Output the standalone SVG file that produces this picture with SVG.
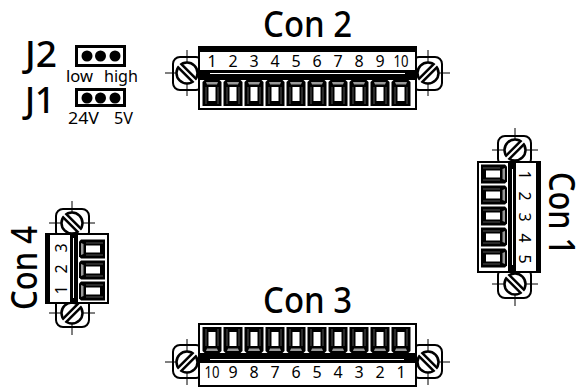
<svg xmlns="http://www.w3.org/2000/svg" width="577" height="387" viewBox="0 0 577 387">
<style>
text{font-family:"Noto Sans","Liberation Sans",sans-serif;fill:#000}
.t{font-size:36px;font-weight:500}
.n{font-size:16px;text-anchor:middle}
.s{font-size:16px}
.o{fill:none;stroke:#000;stroke-width:3}
</style>
<defs>
<g id="ear">
<rect x="-14" y="-16" width="30" height="33" rx="7" fill="#fff" stroke="#000" stroke-width="2"/>
<path d="M-22 0H12M0-23V23" stroke="#000" stroke-width="1" fill="none"/>
<circle r="10.500" fill="#fff" stroke="#000" stroke-width="2.500"/>
<path d="M-7.500-7.500L7.500 7.500" stroke="#000" stroke-width="7" fill="none"/>
<path d="M-9-9L9 9" stroke="#fff" stroke-width="2" fill="none"/>
</g>
<g id="pin">
<path d="M-0.500 36L1.500 34H16.500L18.500 36V60H-0.500Z" fill="#000"/>
<path d="M3 36H15L14 38.500H4Z" fill="#999"/>
<path d="M3 41V58M15 41V58" stroke="#555" stroke-width="1"/>
<rect x="5.500" y="41" width="7" height="14" fill="#fff"/>
</g>
</defs>
<g id="connectors"/>
<g id="con2">
<text class="t" x="263" y="37" textLength="89" lengthAdjust="spacingAndGlyphs">Con 2</text>
<g transform="translate(198 46)">
<use href="#ear" x="-11" y="27"/>
<use href="#ear" transform="translate(230 27) scale(-1 1)"/>
<rect x="1" y="1" width="217" height="62" fill="#fff" stroke="#000" stroke-width="2"/>
<rect width="219" height="6" fill="#000"/>
<rect y="24" width="219" height="10" fill="#000"/>
<path d="M12 27.500H207" stroke="#fff" stroke-width="1"/>
<use href="#pin" x="5"/><use href="#pin" x="26"/><use href="#pin" x="47"/><use href="#pin" x="68"/><use href="#pin" x="89"/><use href="#pin" x="110"/><use href="#pin" x="131"/><use href="#pin" x="152"/><use href="#pin" x="173"/><use href="#pin" x="194"/>
</g>
<text class="n" x="212" y="67">1</text><text class="n" x="233" y="67">2</text><text class="n" x="254" y="67">3</text><text class="n" x="275" y="67">4</text><text class="n" x="296" y="67">5</text><text class="n" x="317" y="67">6</text><text class="n" x="338" y="67">7</text><text class="n" x="359" y="67">8</text><text class="n" x="380" y="67">9</text><text class="n" x="401" y="67" textLength="15" lengthAdjust="spacingAndGlyphs">10</text>
</g>
<g id="con3">
<text class="t" x="263" y="313" textLength="89" lengthAdjust="spacingAndGlyphs">Con 3</text>
<g transform="translate(198 387) scale(1 -1)">
<use href="#ear" x="-11" y="25"/>
<use href="#ear" transform="translate(230 25) scale(-1 1)"/>
<rect x="1" y="1" width="217" height="62" fill="#fff" stroke="#000" stroke-width="2"/>
<rect y="24" width="219" height="10" fill="#000"/>
<path d="M12 27.500H206" stroke="#fff" stroke-width="1"/>
<use href="#pin" x="5"/><use href="#pin" x="26"/><use href="#pin" x="47"/><use href="#pin" x="68"/><use href="#pin" x="89"/><use href="#pin" x="110"/><use href="#pin" x="131"/><use href="#pin" x="152"/><use href="#pin" x="173"/><use href="#pin" x="194"/>
</g>
<text class="n" x="212" y="378" textLength="15" lengthAdjust="spacingAndGlyphs">10</text><text class="n" x="233" y="378">9</text><text class="n" x="254" y="378">8</text><text class="n" x="275" y="378">7</text><text class="n" x="296" y="378">6</text><text class="n" x="317" y="378">5</text><text class="n" x="338" y="378">4</text><text class="n" x="359" y="378">3</text><text class="n" x="380" y="378">2</text><text class="n" x="401" y="378">1</text>
</g>
<g id="con1">
<text class="t" transform="translate(549 172) rotate(90)" textLength="83" lengthAdjust="spacingAndGlyphs">Con 1</text>
<g transform="translate(541 161) rotate(90)">
<use href="#ear" x="-11" y="26"/>
<use href="#ear" transform="translate(123 26) scale(-1 1)"/>
<rect x="1" y="1" width="110" height="62" fill="#fff" stroke="#000" stroke-width="2"/>
<rect width="112" height="5" fill="#000"/>
<rect y="25" width="112" height="8" fill="#000"/>
<path d="M8 28.500H104" stroke="#fff" stroke-width="1"/>
<use href="#pin" x="4"/><use href="#pin" x="25"/><use href="#pin" x="46"/><use href="#pin" x="67"/><use href="#pin" x="88"/>
</g>
<text class="n" transform="translate(519 175) rotate(90)">1</text><text class="n" transform="translate(519 196) rotate(90)">2</text><text class="n" transform="translate(519 217) rotate(90)">3</text><text class="n" transform="translate(519 238) rotate(90)">4</text><text class="n" transform="translate(519 259) rotate(90)">5</text>
</g>
<g id="con4">
<text class="t" transform="translate(37 310) rotate(-90)" textLength="84" lengthAdjust="spacingAndGlyphs">Con 4</text>
<g transform="translate(45 304) rotate(-90)">
<use href="#ear" x="-9" y="27"/>
<use href="#ear" transform="translate(81 27) scale(-1 1)"/>
<rect x="1" y="1" width="69" height="62" fill="#fff" stroke="#000" stroke-width="2"/>
<rect width="71" height="5" fill="#000"/>
<rect y="25" width="71" height="8" fill="#000"/>
<path d="M6 28.500H66" stroke="#fff" stroke-width="1"/>
<use href="#pin" x="4"/><use href="#pin" x="25"/><use href="#pin" x="46"/>
</g>
<text class="n" transform="translate(67 290) rotate(-90)">1</text><text class="n" transform="translate(67 269) rotate(-90)">2</text><text class="n" transform="translate(67 248) rotate(-90)">3</text>
</g>
<g id="j2">
<text class="t" x="25" y="67" textLength="32" lengthAdjust="spacingAndGlyphs">J2</text>
<rect class="o" x="76.500" y="46.500" width="48" height="19"/>
<circle cx="87" cy="56" r="5.500"/><circle cx="100.500" cy="56" r="5.500"/><circle cx="115" cy="56" r="5.500"/>
<text class="s" x="66" y="82" textLength="27" lengthAdjust="spacingAndGlyphs">low</text><text class="s" x="104" y="82" textLength="34" lengthAdjust="spacingAndGlyphs">high</text>
</g>
<g id="j1">
<text class="t" x="25" y="113" textLength="30" lengthAdjust="spacingAndGlyphs">J1</text>
<rect class="o" x="76.500" y="89.500" width="48" height="16"/>
<circle cx="87" cy="98" r="5.500"/><circle cx="100.500" cy="98" r="5.500"/><circle cx="115" cy="98" r="5.500"/>
<text class="s" x="68" y="124" textLength="31" lengthAdjust="spacingAndGlyphs">24V</text><text class="s" x="114" y="124" textLength="19" lengthAdjust="spacingAndGlyphs">5V</text>
</g>
</svg>
